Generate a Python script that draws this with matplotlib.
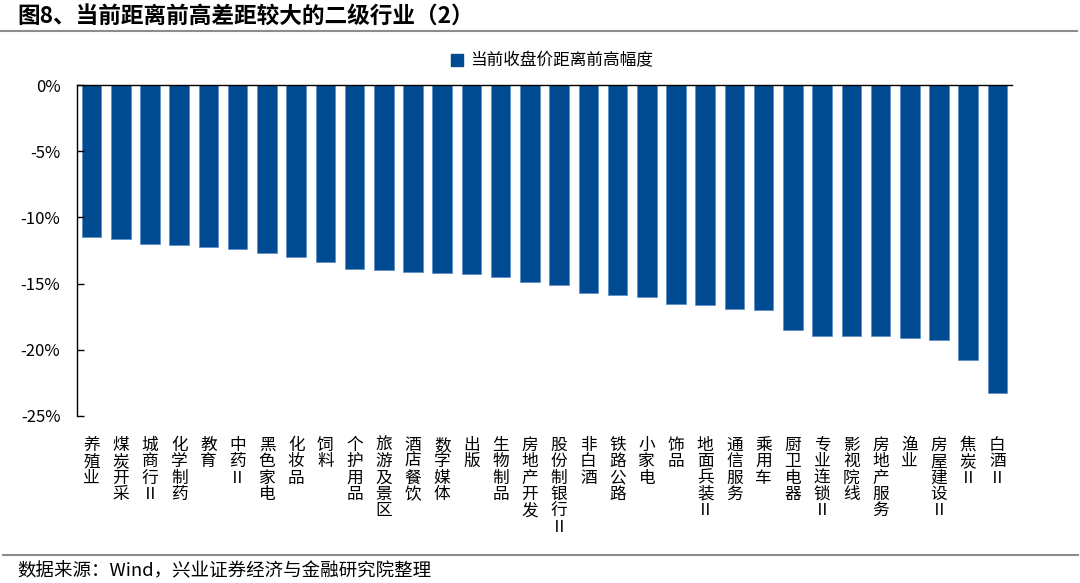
import matplotlib
matplotlib.use("Agg")
import matplotlib.pyplot as plt
from matplotlib.patches import Patch
from matplotlib.lines import Line2D

plt.rcParams['font.family'] = ['Noto Sans CJK SC', 'DejaVu Sans']

categories = ["养殖业", "煤炭开采", "城商行Ⅱ", "化学制药", "教育", "中药Ⅱ", "黑色家电", "化妆品",
              "饲料", "个护用品", "旅游及景区", "酒店餐饮", "数字媒体", "出版", "生物制品", "房地产开发",
              "股份制银行Ⅱ", "非白酒", "铁路公路", "小家电", "饰品", "地面兵装Ⅱ", "通信服务", "乘用车",
              "厨卫电器", "专业连锁Ⅱ", "影视院线", "房地产服务", "渔业", "房屋建设Ⅱ", "焦炭Ⅱ", "白酒Ⅱ"]
values = [-11.45, -11.63, -11.98, -12.10, -12.23, -12.41, -12.66, -12.96,
          -13.36, -13.92, -13.99, -14.09, -14.22, -14.27, -14.47, -14.87,
          -15.12, -15.72, -15.85, -15.98, -16.53, -16.65, -16.93, -16.98,
          -18.49, -18.94, -18.99, -18.99, -19.09, -19.24, -20.80, -23.23]
yticks = [0, -5, -10, -15, -20, -25]
ytick_labels = ["0%", "-5%", "-10%", "-15%", "-20%", "-25%"]
series_name = "当前收盘价距离前高幅度"
title = "图8、当前距离前高差距较大的二级行业（2）"
source = "数据来源：Wind，兴业证券经济与金融研究院整理"

W, H = 1080, 583
fig = plt.figure(figsize=(W / 100, H / 100), dpi=100)
ax = fig.add_axes([77 / W, 1 - 416 / H, (1012 - 77) / W, (416 - 85) / H])

bar_color = '#004B91'
x = list(range(len(categories)))
ax.bar(x, values, width=0.67, color=bar_color, edgecolor='#5f8fc6', linewidth=0.6)

ax.set_xlim(-0.5, len(categories) - 0.5)
ax.set_ylim(-25, 0)
ax.set_yticks(yticks)
ax.set_yticklabels(ytick_labels, fontsize=12)
ax.tick_params(axis='y', direction='in', length=5, width=1, pad=12, colors='black')
ax.set_xticks(x)
ax.set_xticklabels(['\n'.join(c) for c in categories], fontsize=12, linespacing=0.95, va='top')
ax.tick_params(axis='x', length=0, pad=15)

for s in ['right', 'bottom']:
    ax.spines[s].set_visible(False)
ax.spines['top'].set_color('black')
ax.spines['left'].set_color('black')
ax.spines['top'].set_linewidth(1)
ax.spines['left'].set_linewidth(1)

fig.legend(handles=[Patch(facecolor=bar_color, edgecolor=bar_color)], labels=[series_name],
           loc='center', bbox_to_anchor=(552 / W, 1 - 61 / H), frameon=False, fontsize=12,
           handlelength=0.7, handleheight=0.7, handletextpad=0.4)

fig.text(17 / W, 1 - 16 / H, title, fontsize=16.3, fontweight='bold', ha='left', va='center')
fig.add_artist(Line2D([0, 1077 / W], [1 - 31 / H, 1 - 31 / H], color='#8c8c8c', lw=1.5))
fig.add_artist(Line2D([3 / W, 1078 / W], [1 - 555 / H, 1 - 555 / H], color='#8c8c8c', lw=1.5))
fig.text(17 / W, 1 - 571 / H, source, fontsize=13.3, ha='left', va='center')

fig.savefig('out.png', dpi=100)
